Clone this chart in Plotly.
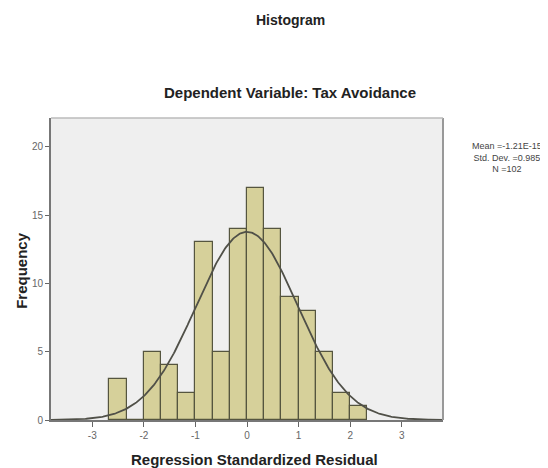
import numpy as np
import plotly.graph_objects as go

# Data
bin_width = 1 / 3
bin_start = -8 / 3
counts = [3, 0, 5, 4, 2, 13, 5, 14, 17, 14, 9, 8, 5, 2, 1]
x_ticks = [-3, -2, -1, 0, 1, 2, 3]
y_ticks = [0, 5, 10, 15, 20]
stat_mean = -1.21e-15
stat_sd = 0.985
stat_n = 102

centers = [bin_start + bin_width * (i + 0.5) for i in range(len(counts))]

# Fitted normal curve scaled to counts
xc = np.linspace(-3.8, 3.8, 400)
yc = stat_n * bin_width * np.exp(-0.5 * ((xc - stat_mean) / stat_sd) ** 2) / (stat_sd * np.sqrt(2 * np.pi))

fig = go.Figure()
fig.add_trace(go.Bar(
    x=centers, y=counts, width=bin_width,
    marker=dict(color="#d6d09a", line=dict(color="#55553f", width=1.2)),
    showlegend=False, hoverinfo="skip",
))
fig.add_trace(go.Scatter(
    x=xc, y=yc, mode="lines",
    line=dict(color="#505048", width=1.8),
    showlegend=False, hoverinfo="skip",
))

FONT = "Liberation Sans, Arial, sans-serif"
fig.update_layout(
    width=540, height=460,
    paper_bgcolor="white", plot_bgcolor="#efefef",
    margin=dict(l=43, r=105, t=110, b=48, autoexpand=False),
    bargap=0,
    font=dict(family=FONT, color="#333"),
    xaxis=dict(
        range=[-3.8, 3.8], tickvals=x_ticks, ticktext=[str(v) for v in x_ticks],
        ticks="outside", ticklen=5, tickcolor="#666", tickwidth=1.2,
        tickfont=dict(size=10, color="#666"),
        showgrid=False, zeroline=False, showline=True, linecolor="#777", linewidth=2,
        automargin=False,
    ),
    yaxis=dict(
        range=[0, 22.1], tickvals=y_ticks, ticktext=[str(v) for v in y_ticks],
        ticks="outside", ticklen=4, tickcolor="#666", tickwidth=1.2,
        tickfont=dict(size=10, color="#666"),
        showgrid=False, zeroline=False, showline=True, linecolor="#777", linewidth=2,
        automargin=False,
    ),
    annotations=[
        dict(text="<b>Histogram</b>", x=0.61, y=1.0, xref="paper", yref="paper",
             yanchor="middle", yshift=98, showarrow=False, font=dict(size=14, color="#222")),
        dict(text="<b>Dependent Variable: Tax Avoidance</b>", x=0.61, y=1.0, xref="paper", yref="paper",
             yanchor="middle", yshift=26, showarrow=False, font=dict(size=15, color="#222")),
        dict(text="<b>Regression Standardized Residual</b>", x=0.52, y=0.0, xref="paper", yref="paper",
             yanchor="middle", yshift=-39, showarrow=False, font=dict(size=15, color="#222")),
        dict(text="<b>Frequency</b>", x=0.0, y=0.494, xref="paper", yref="paper",
             xanchor="center", yanchor="middle", xshift=-29, textangle=-90,
             showarrow=False, font=dict(size=15, color="#222")),
        dict(text="Mean =-1.21E-15<br>Std. Dev. =0.985<br>N =102", x=1.0, y=1.0,
             xref="paper", yref="paper", xanchor="left", yanchor="top", xshift=27, yshift=-21,
             showarrow=False, align="center", font=dict(size=9, color="#444")),
    ],
    shapes=[
        dict(type="line", xref="paper", yref="paper", x0=1, x1=1, y0=0, y1=1,
             line=dict(color="#999", width=2)),
        dict(type="line", xref="paper", yref="paper", x0=0, x1=1, y0=1, y1=1,
             line=dict(color="#bbb", width=1.5)),
    ],
)

fig.write_html("out.html")
